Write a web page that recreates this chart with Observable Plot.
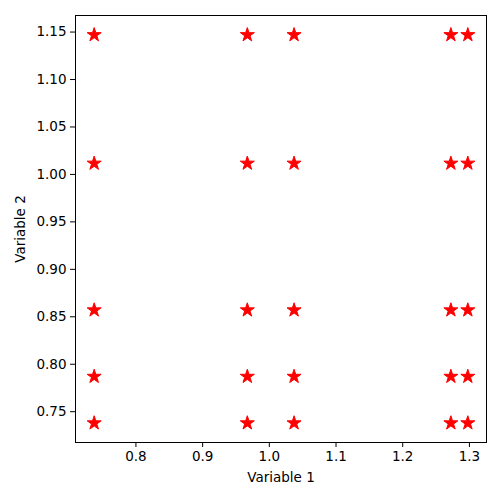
<!DOCTYPE html>
<html>
<head>
<meta charset="utf-8">
<script src="https://cdn.jsdelivr.net/npm/d3@7"></script>
<script src="https://cdn.jsdelivr.net/npm/@observablehq/plot@0.6"></script>
<style>
body { margin: 0; background: #fff; }
svg { font-family: "DejaVu Sans", sans-serif; }
</style>
</head>
<body>
<div id="chart"></div>
<script>
const xValues = [0.7374, 0.967, 1.0371, 1.2722, 1.2976];
const yValues = [0.738, 0.787, 0.857, 1.0116, 1.147];
const xTicks = [0.8, 0.9, 1.0, 1.1, 1.2, 1.3];
const yTicks = [0.75, 0.80, 0.85, 0.90, 0.95, 1.00, 1.05, 1.10, 1.15];

const points = [];
for (const x of xValues) for (const y of yValues) points.push({x, y});

const xr = [d3.min(xValues), d3.max(xValues)];
const yr = [d3.min(yValues), d3.max(yValues)];
const xm = (xr[1] - xr[0]) * 0.05, ym = (yr[1] - yr[0]) * 0.05;

const chart = Plot.plot({
  width: 500,
  height: 500,
  marginLeft: 75,
  marginRight: 14,
  marginTop: 15,
  marginBottom: 58,
  style: {fontSize: "13.5px", fontFamily: "DejaVu Sans, sans-serif", color: "#000", background: "#fff"},
  x: {domain: [xr[0] - xm, xr[1] + xm]},
  y: {domain: [yr[0] - ym, yr[1] + ym]},
  marks: [
    Plot.frame({stroke: "#000", strokeWidth: 1}),
    Plot.axisX({ticks: xTicks, tickFormat: d3.format(".1f"), tickSize: 5, tickPadding: 4, label: "Variable 1", labelAnchor: "center", labelArrow: "none", labelOffset: 39, stroke: "#000"}),
    Plot.axisY({ticks: yTicks, tickFormat: d3.format(".2f"), tickSize: 5, tickPadding: 4, label: "Variable 2", labelAnchor: "center", labelArrow: "none", labelOffset: 60, stroke: "#000"}),
    Plot.dot(points, {x: "x", y: "y", symbol: "star", r: 4.4, fill: "red", stroke: "red", strokeWidth: 1})
  ]
});
document.getElementById("chart").appendChild(chart);
</script>
</body>
</html>
